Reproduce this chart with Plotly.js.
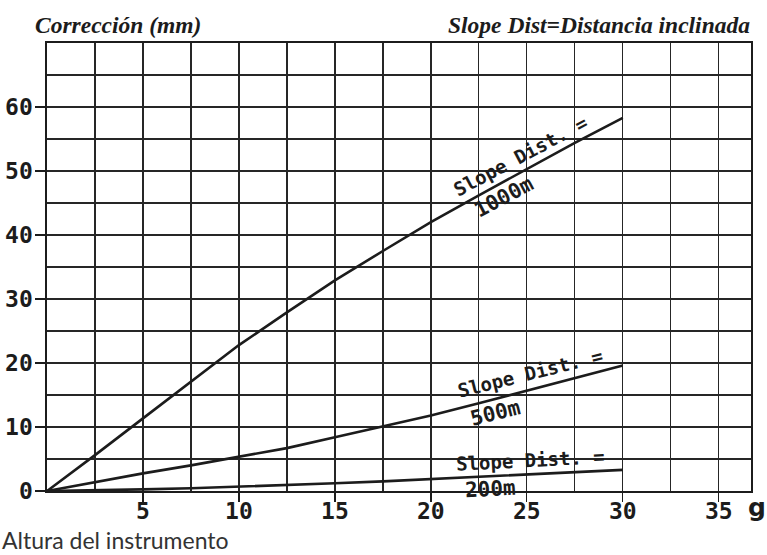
<!DOCTYPE html>
<html>
<head>
<meta charset="utf-8">
<script src="https://cdn.plot.ly/plotly-3.0.1.min.js"></script>
<style>
html,body{margin:0;padding:0;background:#fff;}
#chart{width:767px;height:555px;}
</style>
</head>
<body>
<div id="chart"></div>
<script>
// Angle (g) values
const angles = [0, 2.5, 5, 7.5, 10, 12.5, 15, 17.5, 20, 22.5, 25, 27.5, 30];
// Corrections (mm) for each slope distance
const corr1000 = [0, 5.6, 11.35, 17.1, 22.8, 27.9, 32.9, 37.5, 42.0, 46.2, 50.3, 54.4, 58.3];
const corr500  = [0, 1.4, 2.75, 4.0, 5.3, 6.7, 8.4, 10.05, 11.8, 13.7, 15.7, 17.7, 19.6];
const corr200  = [0, 0.1, 0.25, 0.42, 0.65, 0.9, 1.2, 1.5, 1.85, 2.2, 2.55, 2.9, 3.3];

const xTicks = [5, 10, 15, 20, 25, 30, 35];
const yTicks = [0, 10, 20, 30, 40, 50, 60];
const seriesNames = ['Slope Dist. = 1000m', 'Slope Dist. = 500m', 'Slope Dist. = 200m'];
const distLabels = ['1000m', '500m', '200m'];

const ink = '#1c1c1c';
const lineStyle = {color: ink, width: 2.6};

const traces = [corr1000, corr500, corr200].map((ys, i) => ({
  x: angles, y: ys, type: 'scatter', mode: 'lines',
  name: seriesNames[i], line: lineStyle, hoverinfo: 'skip'
}));

const monoB = {family: '"DejaVu Sans Mono", "Liberation Mono", monospace', color: ink, size: 19, weight: 'bold'};
const monoNum = Object.assign({}, monoB, {size: 21});

// label placements (data units) and angles
const labelPos = [
  {sx: 24.65, sy: 52.4, nx: 23.8, ny: 46.0, ang: -28},
  {sx: 25.17, sy: 18.4, nx: 23.35, ny: 12.2, ang: -14},
  {sx: 25.17, sy: 4.8, nx: 23.09, ny: 0.3, ang: -3}
];

const annotations = [];
labelPos.forEach((p, i) => {
  annotations.push({xref: 'x', yref: 'y', x: p.sx, y: p.sy, text: '<b>Slope Dist. =</b>',
    showarrow: false, textangle: p.ang, font: monoB, xanchor: 'center', yanchor: 'middle'});
  annotations.push({xref: 'x', yref: 'y', x: p.nx, y: p.ny, text: '<b>' + distLabels[i] + '</b>',
    showarrow: false, textangle: p.ang, font: monoNum, xanchor: 'center', yanchor: 'middle'});
});

const serifI = {family: '"Liberation Serif", "DejaVu Serif", serif', size: 23.5, color: ink, style: 'italic', weight: 'bold'};
annotations.push({xref: 'paper', yref: 'paper', x: -0.0205, y: 1.040, xanchor: 'left', yanchor: 'middle',
  text: '<b><i>Corrección (mm)</i></b>', showarrow: false, font: serifI});
annotations.push({xref: 'paper', yref: 'paper', x: 1.0014, y: 1.040, xanchor: 'right', yanchor: 'middle',
  text: '<b><i>Slope Dist=Distancia inclinada</i></b>', showarrow: false, font: serifI});
annotations.push({xref: 'paper', yref: 'paper', x: -0.0668, y: -0.110, xanchor: 'left', yanchor: 'middle',
  text: 'Altura del instrumento', showarrow: false,
  font: {family: 'Lato, "Liberation Sans", sans-serif', size: 23, color: '#333'}});
annotations.push({xref: 'paper', yref: 'paper', x: 1.009, y: -0.036, xanchor: 'center', yanchor: 'middle',
  text: '<b>g</b>', showarrow: false,
  font: {family: '"DejaVu Sans", sans-serif', size: 25, color: ink}});

const grid = {gridcolor: '#262626', gridwidth: 1.3};
const tickFont = {family: '"DejaVu Sans Mono", "Liberation Mono", monospace', size: 23, color: ink, weight: 'bold'};

const layout = {
  width: 767, height: 555,
  margin: {l: 47, r: 16, t: 43, b: 64, pad: 0},
  paper_bgcolor: '#fff', plot_bgcolor: '#fff',
  showlegend: false,
  xaxis: {
    range: [0, 36.68], tickmode: 'array', tickvals: xTicks,
    ticktext: xTicks.map(v => '<b>' + v + '</b>'),
    ticks: 'outside', ticklen: 9, tickwidth: 1.3, tickcolor: ink,
    ticklabelstandoff: -10,
    showgrid: true, gridcolor: grid.gridcolor, gridwidth: grid.gridwidth,
    minor: {dtick: 2.5, tick0: 0, showgrid: true, gridcolor: grid.gridcolor, gridwidth: grid.gridwidth},
    showline: true, mirror: true, linecolor: ink, linewidth: 1.6,
    zeroline: false, tickfont: tickFont, fixedrange: true
  },
  yaxis: {
    range: [0, 70], tickmode: 'array', tickvals: yTicks,
    ticktext: yTicks.map(v => '<b>' + v + '</b>'),
    ticks: 'outside', ticklen: 10, tickwidth: 1.3, tickcolor: ink,
    ticklabelstandoff: -2,
    showgrid: true, gridcolor: grid.gridcolor, gridwidth: grid.gridwidth,
    minor: {dtick: 5, tick0: 0, showgrid: true, gridcolor: grid.gridcolor, gridwidth: grid.gridwidth},
    showline: true, mirror: true, linecolor: ink, linewidth: 1.6,
    zeroline: false, tickfont: tickFont, fixedrange: true
  },
  annotations: annotations
};

Plotly.newPlot('chart', traces, layout, {staticPlot: true, displayModeBar: false});
</script>
</body>
</html>
